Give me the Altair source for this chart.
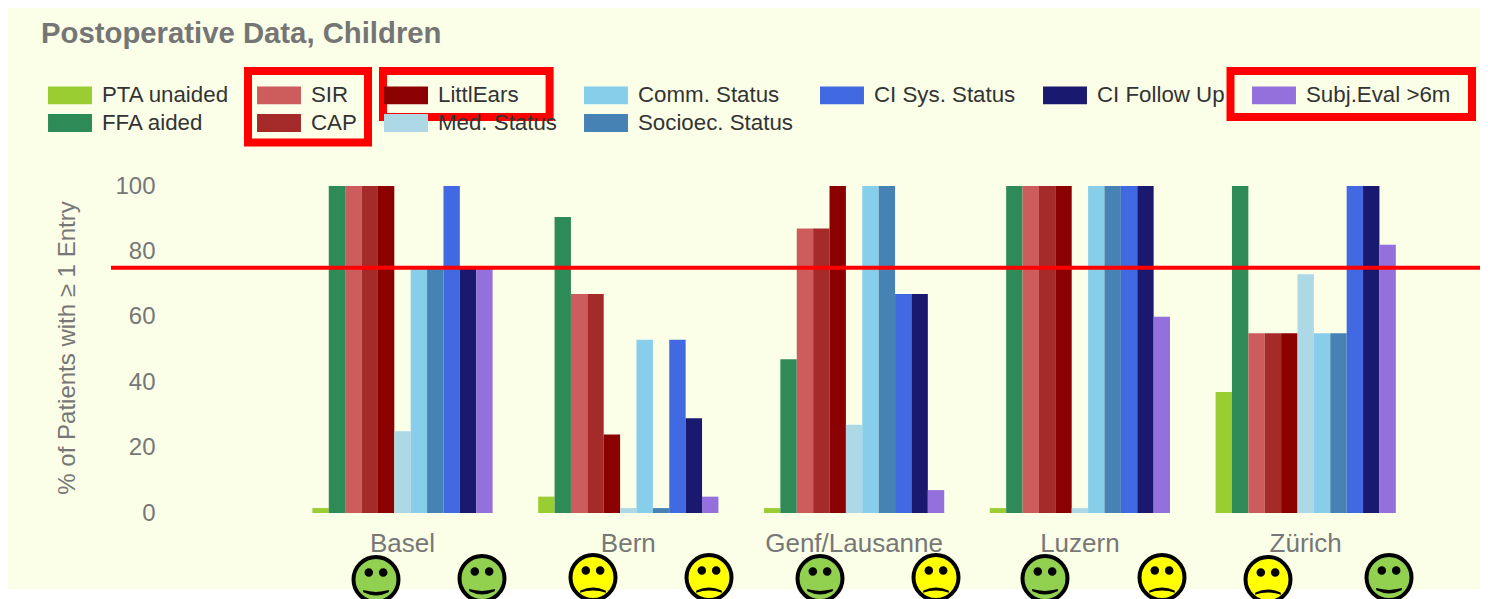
import altair as alt
import pandas as pd

TITLE = "Postoperative Data, Children"
YTITLE = "% of Patients with ≥ 1 Entry"
centres = ["Basel", "Bern", "Genf/Lausanne", "Luzern", "Zürich"]
series = ["PTA unaided", "FFA aided", "SIR", "CAP", "LittlEars", "Med. Status",
          "Comm. Status", "Socioec. Status", "CI Sys. Status", "CI Follow Up", "Subj.Eval >6m"]
colors = ["#9ACD32", "#2E8B57", "#CD5C5C", "#A52A2A", "#8B0000", "#ADD8E6",
          "#87CEEB", "#4682B4", "#4169E1", "#191970", "#9370DB"]
basel = [1.5, 100, 100, 100, 100, 25, 75, 75, 100, 75, 75]
bern = [5, 90.5, 67, 67, 24, 1.5, 53, 1.5, 53, 29, 5]
genf = [1.5, 47, 87, 87, 100, 27, 100, 100, 67, 67, 7]
luzern = [1.5, 100, 100, 100, 100, 1.5, 100, 100, 100, 100, 60]
zuerich = [37, 100, 55, 55, 55, 73, 55, 55, 100, 100, 82]
threshold = [75]

# annotations, given in page coordinates
smiley_x = [376, 482, 593, 709, 820, 936, 1045, 1162, 1268, 1389]
smiley_y = [579.5, 578.5, 577.5, 577.5, 578.5, 577.5, 578.5, 577.5, 579.5, 577.5]
smiley_happy = [True, True, False, False, True, False, True, False, False, True]
box_x = [248, 383, 1230.5]
box_x2 = [368, 549.6, 1472]
box_y = [71, 71, 71]
box_y2 = [142.5, 117, 117]

W, H = 1303, 327
X0, Y0 = 177, 186

rows = []
for c, vals in zip(centres, [basel, bern, genf, luzern, zuerich]):
    for s, v in zip(series, vals):
        rows.append({"centre": c, "series": s, "value": v})
bars_df = pd.DataFrame(rows)

# legend fills row by row: 7 columns, the first four of which hold two entries
legend_order = [series[i] for i in (0, 2, 4, 6, 8, 9, 10, 1, 3, 5, 7)]
legend_colors = [colors[series.index(s)] for s in legend_order]

page_x = alt.Scale(domain=[X0, X0 + W], range=[0, W], zero=False, nice=False)
page_y = alt.Scale(domain=[Y0, Y0 + H], range=[0, H], zero=False, nice=False)
value_y = alt.Scale(domain=[0, 100], nice=False)

# two empty slots widen the gap between the groups of bars
offset_domain = ["_gap1"] + series + ["_gap2"]

bars = alt.Chart(bars_df).mark_bar(strokeWidth=0).encode(
    x=alt.X("centre:N", sort=centres, title=None,
            scale=alt.Scale(range=[112.6, 1241.6], paddingInner=0, paddingOuter=0, round=False),
            axis=alt.Axis(labelAngle=0, labelFont="Liberation Sans", labelFontSize=26,
                          labelColor="#777777", labelPadding=17, ticks=False, domain=False, grid=False)),
    xOffset=alt.XOffset("series:N",
                        scale=alt.Scale(domain=offset_domain, paddingInner=0, paddingOuter=0.39)),
    y=alt.Y("value:Q", scale=value_y,
            axis=alt.Axis(values=[0, 20, 40, 60, 80, 100], title=YTITLE, titleFont="Liberation Sans",
                          titleFontSize=24, titleFontWeight="normal", titleColor="#777777",
                          titlePadding=35, titleY=161.5, labelFont="Liberation Sans", labelFontSize=24,
                          labelColor="#777777", labelPadding=22, ticks=False, domain=False,
                          gridColor="#DDDDDD", gridWidth=2)),
    color=alt.Color("series:N",
                    scale=alt.Scale(domain=legend_order, range=legend_colors),
                    legend=alt.Legend(title=None, orient="none", legendX=56 - X0, legendY=81 - Y0,
                                      direction="horizontal", columns=7, columnPadding=27, rowPadding=2,
                                      symbolType="M-1.57,-0.64H1.57V0.64H-1.57Z", symbolSize=784,
                                      symbolStrokeWidth=0, symbolOpacity=1, labelOffset=18,
                                      labelFont="Liberation Sans", labelFontSize=22.3,
                                      labelColor="#333333", labelLimit=300)),
)

rule = alt.Chart(pd.DataFrame({"t": threshold})).mark_rule(color="#FF0000", strokeWidth=4).encode(
    y=alt.Y("t:Q", scale=value_y, axis=None),
    x=alt.value(111 - X0),
    x2=alt.value(W),
)

boxes_df = pd.DataFrame({"x": box_x, "x2": box_x2, "y": box_y, "y2": box_y2})
boxes = alt.Chart(boxes_df).mark_rect(fillOpacity=0, stroke="#FF0000", strokeWidth=8).encode(
    x=alt.X("x:Q", scale=page_x, axis=None), x2="x2:Q",
    y=alt.Y("y:Q", scale=page_y, axis=None), y2="y2:Q",
)

strip = alt.Chart(pd.DataFrame({"x": [0], "x2": [1488], "y": [589], "y2": [599]})).mark_rect(
    fill="white", strokeWidth=0).encode(
    x=alt.X("x:Q", scale=page_x, axis=None), x2="x2:Q",
    y=alt.Y("y:Q", scale=page_y, axis=None), y2="y2:Q",
)

EYES = ("M-0.13,-0.31A0.19,0.19 0 1 1 -0.51,-0.31A0.19,0.19 0 1 1 -0.13,-0.31Z"
        "M0.51,-0.31A0.19,0.19 0 1 1 0.13,-0.31A0.19,0.19 0 1 1 0.51,-0.31Z")
SMILE = EYES + "M-0.58,0.47Q0,0.63 0.58,0.47L0.56,0.57Q0,0.85 -0.56,0.57Z"
FROWN = EYES + "M-0.58,0.68Q0,0.48 0.58,0.68L0.56,0.58Q0,0.3 -0.56,0.58Z"

sm_df = pd.DataFrame({
    "x": smiley_x, "y": smiley_y,
    "face": ["#92D050" if h else "#FFFF00" for h in smiley_happy],
    "path": [SMILE if h else FROWN for h in smiley_happy],
})
faces = alt.Chart(sm_df).mark_point(filled=True, size=2025, stroke="black", strokeWidth=4, opacity=1).encode(
    x=alt.X("x:Q", scale=page_x, axis=None),
    y=alt.Y("y:Q", scale=page_y, axis=None),
    fill=alt.Fill("face:N", scale=None, legend=None),
)
features = alt.Chart(sm_df).mark_point(filled=True, size=2025, fill="black", strokeWidth=0, opacity=1).encode(
    x=alt.X("x:Q", scale=page_x, axis=None),
    y=alt.Y("y:Q", scale=page_y, axis=None),
    shape=alt.Shape("path:N", scale=None, legend=None),
)

chart = alt.layer(strip, bars, rule, boxes, faces, features).resolve_scale(
    x="independent", y="independent"
).properties(
    width=W, height=H,
    autosize="none",
    padding={"left": X0 - 8, "top": Y0 - 8, "right": 0, "bottom": 591 - (Y0 - 8) - H},
    background="#FBFFE8",
    title=alt.TitleParams(TITLE, anchor="start", frame="group", orient="top", font="Liberation Sans",
                          fontSize=29.3, fontWeight="bold", color="#757575", dx=41 - X0, dy=-18, offset=0),
).configure_view(stroke=None)

chart.save("out.html", embed_options={"renderer": "svg", "actions": False})
